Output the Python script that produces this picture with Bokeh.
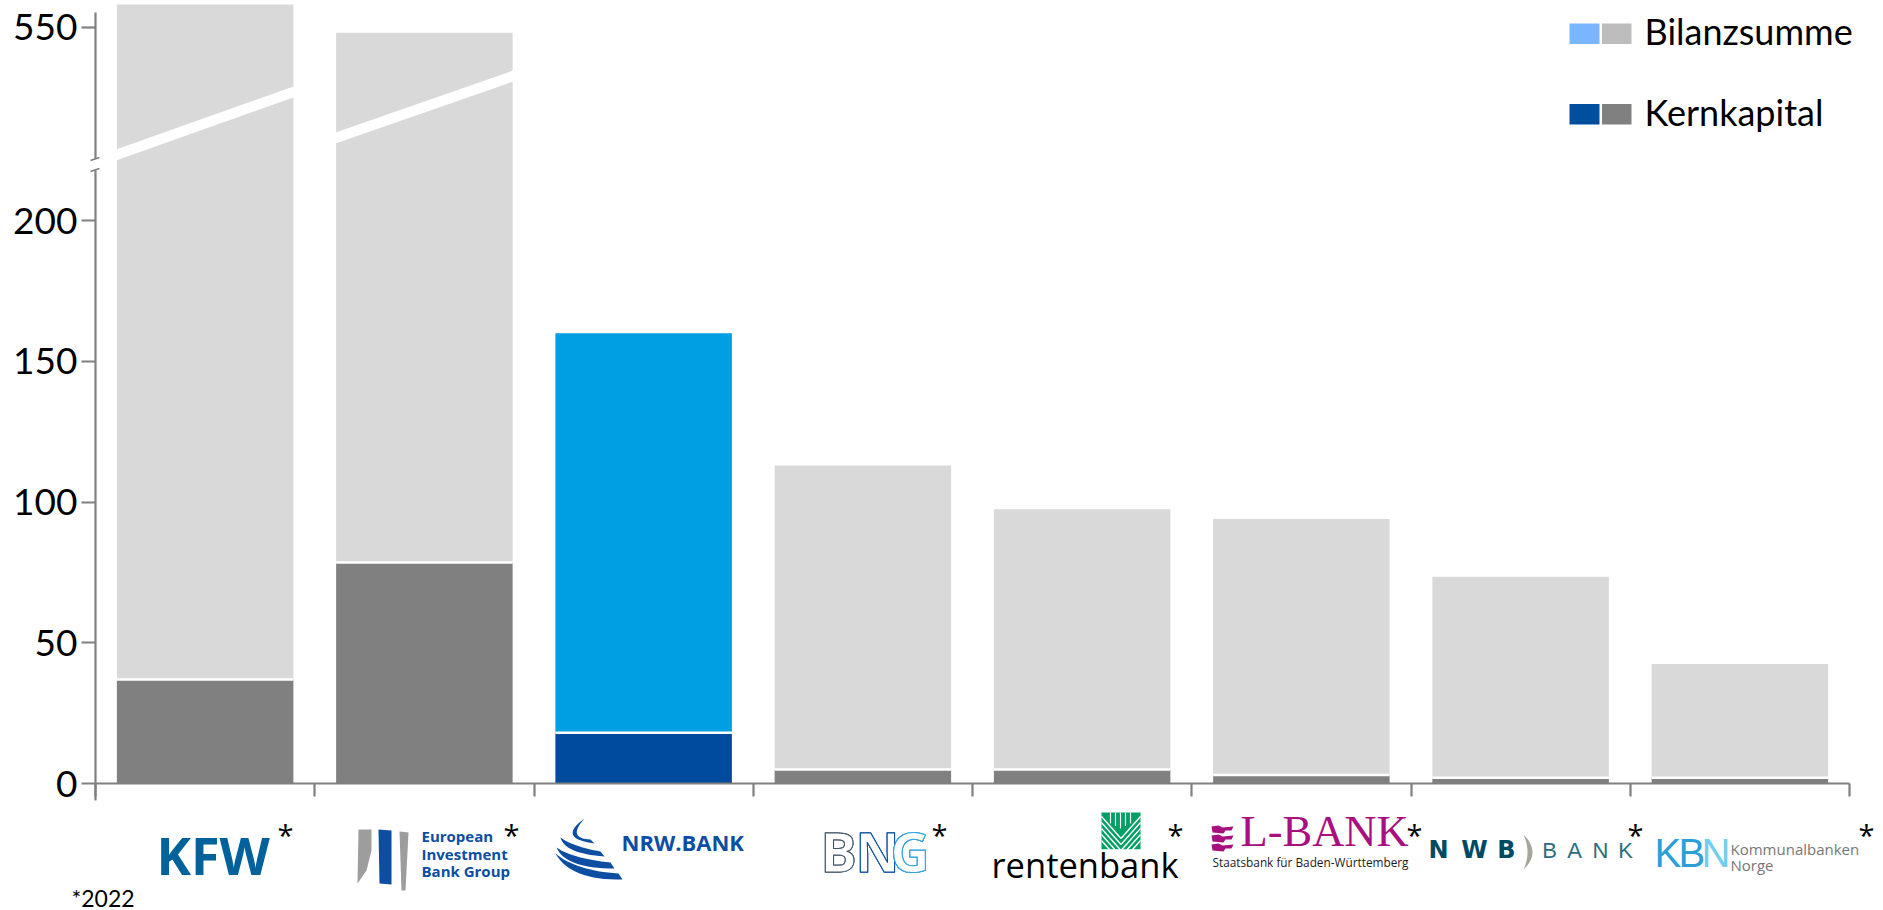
from bokeh.plotting import figure
from bokeh.models import Range1d, LinearAxis, FixedTicker
from bokeh.core.properties import value
from bokeh.embed import file_html
from bokeh.resources import INLINE

banks = ["KfW", "EIB", "NRW.BANK", "BNG", "Rentenbank", "L-Bank", "NWB", "KBN"]
bilanzsumme = [558, 548, 160, 113, 97.5, 94, 73.5, 42.5]
kernkapital = [37, 78.5, 18, 5, 5, 3, 2, 2]
highlight = "NRW.BANK"
y_ticks_low = [0, 50, 100, 150, 200]
y_ticks_high = [550]
BREAK_AT = 230
BREAK_OFFSET = 281.2
legend_labels = ["Bilanzsumme", "Kernkapital"]
footnote = "*2022"

SHIFT = 8
W, H = 1883 + SHIFT, 910 + SHIFT
AX_X, AX_Y = 95.0, 783.0
PX_X, PX_Y = 219.25, 2.814
SANS = "Lato"
GRID = "#808080"
BASE_FIX = 0.43


def disp(v):
    return v if v <= BREAK_AT else v - BREAK_OFFSET


p = figure(width=W, height=H, output_backend="svg", toolbar_location=None,
           x_range=Range1d((-SHIFT - AX_X) / PX_X, (W - SHIFT - AX_X) / PX_X),
           y_range=Range1d((AX_Y - (H - SHIFT)) / PX_Y, (AX_Y + SHIFT) / PX_Y),
           min_border=0, outline_line_color=None, margin=(-8, 0, 0, -8))
p.axis.visible = False
p.grid.visible = False
p.renderers = []
p.left = []
p.below = []
p.extra_x_ranges["px"] = Range1d(-SHIFT, W - SHIFT)
p.extra_y_ranges["px"] = Range1d(H - SHIFT, -SHIFT)
PX = dict(x_range_name="px", y_range_name="px")


def txt(x, y, s, size, color="#000000", font=SANS, style="normal", align="left", **kw):
    p.text(x=[x], y=[y - BASE_FIX * size], text=[s], text_font=value(font), text_font_size=value(f"{size}px"),
           text_font_style=style, text_color=color, text_align=align, text_baseline="alphabetic", **PX, **kw)


def rect(x0, y0, x1, y1, color):
    p.quad(left=[x0], right=[x1], top=[y0], bottom=[y1], fill_color=color, line_color=None, **PX)


# bars
centers = [i + 0.5 for i in range(len(banks))]
light = ["#009FE3" if b == highlight else "#D9D9D9" for b in banks]
dark = ["#004B9E" if b == highlight else "#808080" for b in banks]
p.vbar(x=centers, width=0.805, bottom=kernkapital, top=[disp(v) for v in bilanzsumme],
       fill_color=light, line_color=None)
p.vbar(x=centers, width=0.805, bottom=0, top=kernkapital, fill_color=dark, line_color=None)
p.segment(x0=[c - 0.4025 for c in centers], x1=[c + 0.4025 for c in centers], y0=kernkapital, y1=kernkapital,
          line_color="#FFFFFF", line_width=2.5)

# white diagonal cut through the two tall bars
for x0, x1, yl, yr in [(112, 298, 150.2, 84.2), (330, 518, 133.7, 68.2)]:
    p.patch(x=[x0, x1, x1, x0], y=[yl, yr, yr + 11, yl + 11], fill_color="#FFFFFF", line_color=None, **PX)

# axes
low = LinearAxis(ticker=FixedTicker(ticks=y_ticks_low), bounds=(0, (AX_Y - 170) / PX_Y))
high = LinearAxis(ticker=FixedTicker(ticks=[disp(v) for v in y_ticks_high]),
                  bounds=((AX_Y - 158) / PX_Y, (AX_Y - 12) / PX_Y),
                  major_label_overrides={disp(v): str(v) for v in y_ticks_high})
for ax in (low, high):
    ax.fixed_location = 0
    ax.axis_line_color = GRID
    ax.axis_line_width = 2.2
    ax.major_tick_line_color = GRID
    ax.major_tick_line_width = 2.2
    ax.major_tick_in = 0
    ax.major_tick_out = 14
    ax.minor_tick_line_color = None
    ax.major_label_standoff = 4
    ax.major_label_text_font = SANS
    ax.major_label_text_font_size = "37px"
    ax.major_label_text_color = "#000000"
    p.add_layout(ax, "left")
xax = LinearAxis(ticker=FixedTicker(ticks=list(range(len(banks) + 1))), bounds=(0, len(banks)))
xax.fixed_location = 0
xax.axis_line_color = GRID
xax.axis_line_width = 2.2
xax.major_tick_line_color = GRID
xax.major_tick_line_width = 2.2
xax.major_tick_in = 0
xax.major_tick_out = 13
xax.minor_tick_line_color = None
xax.major_label_text_color = None
xax.major_label_text_font_size = "1px"
p.add_layout(xax, "below")
p.segment(x0=[AX_X], x1=[AX_X], y0=[784], y1=[800], line_color=GRID, line_width=2.2, **PX)
p.segment(x0=[90, 90], x1=[99, 99], y0=[160, 171], y1=[157, 168], line_color=GRID, line_width=1.8, **PX)

# legend
for y0, c1, c2, lab, base in [(23, "#7AB6FF", "#BDBDBD", legend_labels[0], 46),
                              (103.5, "#004F9F", "#808080", legend_labels[1], 126.5)]:
    rect(1569, y0, 1599, y0 + 20.5, c1)
    rect(1601.5, y0, 1631, y0 + 20.5, c2)
    txt(1644, base, lab, 36)

# footnote and stars
txt(71, 907, footnote, 23)
for x in [285, 511, 939, 1175, 1414, 1635, 1866]:
    txt(x, 846, "*", 29, font="Open Sans", align="center")

# KfW
txt(156, 876, "KFW", 52, "#00629B", font="Open Sans", style="bold")

# EIB
p.patch(x=[358, 371, 371, 366, 357], y=[829, 829, 850, 870, 883], fill_color="#9D9D9C", line_color=None, **PX)
p.patch(x=[378, 391, 391, 379], y=[829, 830, 884, 883], fill_color="#0B4EA2", line_color=None, **PX)
p.patch(x=[399, 408, 405, 401], y=[831, 832, 890, 890], fill_color="#9D9D9C", line_color=None, **PX)
for y, s in [(842, "European"), (860, "Investment"), (877, "Bank Group")]:
    txt(421, y, s, 15, "#0B4EA2", font="Open Sans", style="bold")


# NRW.BANK
def bez(a, c, b, n=16):
    return [((1 - t) ** 2 * a[0] + 2 * t * (1 - t) * c[0] + t ** 2 * b[0],
             (1 - t) ** 2 * a[1] + 2 * t * (1 - t) * c[1] + t ** 2 * b[1]) for t in [k / n for k in range(n + 1)]]


for a, c1, b, b2, c2 in [((584, 818), (556, 838), (594, 843), (590, 839), (566, 838)),
                         ((560, 837), (564, 853), (604, 856), (600, 851), (572, 846)),
                         ((556, 847), (565, 868), (614, 868), (610, 862), (572, 858)),
                         ((555, 853), (570, 880), (622, 879), (618, 873), (575, 870))]:
    pts = bez(a, c1, b) + bez(b2, c2, a)
    p.patch(x=[q[0] for q in pts], y=[q[1] for q in pts], fill_color="#0B4EA2", line_color=None, **PX)
txt(621, 851, "NRW.BANK", 22, "#0B4EA2", font="Open Sans", style="bold")

# BNG
for x, s, c in [(820, "B", "#42586A"), (855, "N", "#0B4EA2"), (890, "G", "#2AA0E0")]:
    for _ in range(3):
        txt(x, 874, s, 54, "#FFFFFF", font="Open Sans", style="bold", text_outline_color=c)

# Rentenbank
rect(1101, 812, 1140, 849, "#009F64")
xs = [1105 + 5 * k for k in range(7)]
for x in xs[1:-1]:
    p.segment(x0=[x], x1=[x], y0=[812], y1=[824 + abs(x - 1120) * -0.5 + 4], line_color="#FFFFFF", line_width=1.2, **PX)
for k in range(5):
    yy = 816 + k * 6
    p.segment(x0=[1101, 1140], x1=[1120.5, 1120.5], y0=[yy, yy], y1=[yy + 22, yy + 22],
              line_color="#FFFFFF", line_width=1.4, **PX)
rect(1098, 849, 1143, 856, "#FFFFFF")
txt(991, 879, "rentenbank", 34.5, font="Open Sans")

# L-Bank
for y in [825, 834, 843]:
    p.patch(x=[1211, 1218, 1222, 1233, 1231, 1225, 1223, 1212],
            y=[y + 1, y, y + 2, y + 1, y + 5, y + 5, y + 8, y + 7], fill_color="#A8107F", line_color=None, **PX)
txt(1240, 850, "L-BANK", 44.5, "#A8107F", font="Liberation Serif")
txt(1212, 867, "Staatsbank für Baden-Württemberg", 11.8, "#1A1A1A", font="Open Sans")

# NWB
for x, s in [(1438, "N"), (1474, "W"), (1506, "B")]:
    txt(x, 860, s, 24, "#004B63", font="DejaVu Sans", style="bold", align="center")
outer = bez((1523, 834), (1541, 852), (1523, 869))
inner = bez((1523, 869), (1531, 852), (1523, 834))
p.patch(x=[q[0] for q in outer + inner], y=[q[1] for q in outer + inner],
        fill_color="#A5A59A", line_color=None, **PX)
for x, s in [(1549, "B"), (1574, "A"), (1600, "N"), (1625, "K")]:
    txt(x, 859, s, 22, "#2B6E80", font="Liberation Sans", align="center")

# KBN
txt(1654, 870, "K", 40, "#2A9FD8", font="Liberation Sans")
txt(1678, 870, "B", 40, "#2A9FD8", font="Liberation Sans")
txt(1701, 870, "N", 40, "#73CDF0", font="Liberation Sans")
txt(1730, 855, "Kommunalbanken", 15, "#777777", font="Open Sans")
txt(1730, 871, "Norge", 15, "#777777", font="Open Sans")

open("out.html", "w").write(file_html(p, INLINE))
